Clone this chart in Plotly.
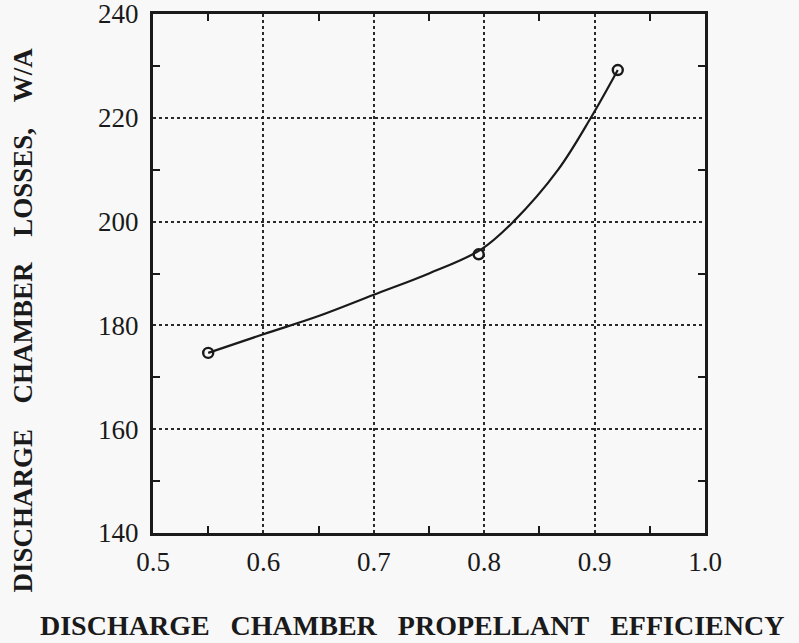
import plotly.graph_objects as go

# Measured data points
pts_x = [0.55, 0.795, 0.921]
pts_y = [174.7, 193.7, 229.2]

# Fitted curve
curve_x = [0.55, 0.6, 0.65, 0.7, 0.75, 0.797, 0.8265, 0.867, 0.8966, 0.921]
curve_y = [174.7, 178.3, 181.8, 185.9, 190.0, 194.6, 200.0, 210.0, 220.0, 229.2]

x_ticks = [0.5, 0.6, 0.7, 0.8, 0.9, 1.0]
y_ticks = [140, 160, 180, 200, 220, 240]

sp = "\u00a0\u00a0\u00a0"
x_title = sp.join(["DISCHARGE", "CHAMBER", "PROPELLANT", "EFFICIENCY"])
y_title = (sp + "\u2009").join(["DISCHARGE", "CHAMBER", "LOSSES,", "W/A"])

serif = "Liberation Serif, Times New Roman, serif"
ink = "#1a1a1a"

W, H = 799, 643
L, R, T, B = 152.5, 705.0, 14.0, 533.0

fig = go.Figure()
fig.add_trace(go.Scatter(x=curve_x, y=curve_y, mode="lines",
                         line=dict(color=ink, width=2.2, shape="spline", smoothing=1.0),
                         hoverinfo="skip", showlegend=False))
fig.add_trace(go.Scatter(x=pts_x, y=pts_y, mode="markers",
                         marker=dict(symbol="circle-open", size=10, color=ink,
                                     line=dict(width=2.4, color=ink)),
                         showlegend=False))

axis_common = dict(
    showline=True, linecolor=ink, linewidth=3, mirror="allticks",
    showgrid=True, gridcolor="#2a2a2a", griddash="dot", gridwidth=1.8,
    ticks="", zeroline=False, automargin=False, ticklabeloverflow="allow",
    tickfont=dict(family=serif, size=27, color=ink),
)

fig.update_xaxes(range=[0.5, 1.0], tickvals=x_ticks, ticktext=[f"{v:.1f}" for v in x_ticks],
                 minor=dict(ticks="inside", ticklen=7, tickwidth=2, tickcolor=ink,
                            tickvals=[0.55, 0.65, 0.75, 0.85, 0.95], showgrid=False),
                 ticklabelstandoff=3, **axis_common)
fig.update_yaxes(range=[140, 240], tickvals=y_ticks, ticktext=[str(v) for v in y_ticks],
                 minor=dict(ticks="inside", ticklen=7, tickwidth=2, tickcolor=ink,
                            tickvals=[150, 170, 190, 210, 230], showgrid=False),
                 ticklabelstandoff=6, **axis_common)

fig.add_annotation(text=x_title, xref="paper", yref="paper",
                   x=(412 - L) / (R - L), y=(B - 625) / (B - T),
                   xanchor="center", yanchor="middle", showarrow=False,
                   font=dict(family=serif, size=28, color=ink, weight="bold"))
fig.add_annotation(text=y_title, xref="paper", yref="paper",
                   x=(22 - L) / (R - L), y=(B - 320) / (B - T),
                   xanchor="center", yanchor="middle", textangle=-90, showarrow=False,
                   font=dict(family=serif, size=27, color=ink, weight="bold"))

fig.update_layout(
    width=W, height=H,
    margin=dict(l=L, r=W - R, t=T, b=H - B, autoexpand=False),
    paper_bgcolor="#f8f8f8", plot_bgcolor="#f8f8f8",
)

fig.write_html("out.html", config={"displayModeBar": False},
               post_script="document.body.style.margin='0';document.body.style.overflow='hidden';")
